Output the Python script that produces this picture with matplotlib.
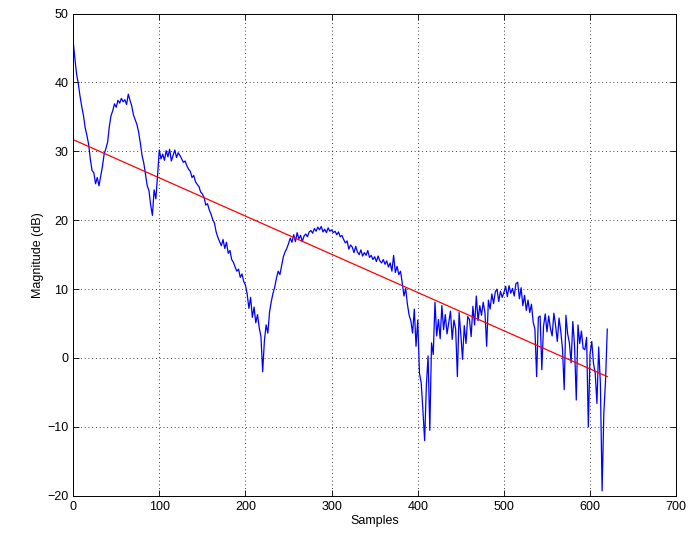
import numpy as np
import matplotlib
matplotlib.use("Agg")
import matplotlib.pyplot as plt

plt.rcParams['font.family'] = ['Liberation Sans', 'DejaVu Sans']

# magnitude, one value every 2 samples (0..620)
magnitude = [
    46.0, 43.5, 41.2, 39.8, 38.0, 36.5, 35.2, 33.4, 32.3, 31.0,
    28.8, 27.2, 26.9, 25.3, 26.2, 25.0, 26.4, 27.8, 29.6, 30.4,
    31.3, 33.6, 35.2, 35.9, 36.9, 36.4, 37.4, 37.0, 37.7, 37.2,
    37.5, 36.8, 38.3, 37.4, 36.6, 35.3, 34.6, 33.9, 32.8, 31.2,
    29.4, 28.3, 26.6, 25.0, 24.3, 22.2, 20.7, 24.4, 23.1, 26.5,
    30.2, 28.9, 29.6, 28.7, 30.1, 29.2, 30.3, 28.6, 29.4, 30.2,
    29.1, 29.8, 29.4, 28.9, 28.4, 28.6, 27.9, 27.4, 27.1, 26.2,
    26.5, 25.6, 25.2, 24.9, 24.1, 23.8, 23.3, 22.2, 22.4, 21.5,
    20.9, 20.1, 19.6, 18.3, 17.5, 16.9, 16.3, 17.2, 15.9, 16.8,
    15.2, 15.6, 14.3, 13.9, 13.2, 12.6, 12.9, 11.7, 12.2, 11.1,
    10.6, 9.3, 7.2, 8.8, 5.9, 7.4, 5.1, 6.3, 4.4, 3.1,
    -2.0, 2.5, 4.8, 3.6, 6.7, 8.2, 9.4, 10.3, 11.6, 12.6,
    12.1, 13.4, 14.7, 15.4, 15.9, 16.6, 17.4, 16.8, 17.9, 16.9,
    18.2, 17.3, 17.8, 16.9, 17.7, 18.0, 17.6, 18.3, 18.5, 18.1,
    18.8, 18.4, 19.0, 18.6, 19.1, 18.3, 18.7, 18.2, 18.9, 18.4,
    18.6, 18.2, 18.4, 17.9, 18.3, 17.6, 17.8, 17.2, 16.7, 17.0,
    15.8, 16.4, 16.1, 15.3, 16.2, 15.4, 15.0, 15.7, 14.8, 15.3,
    14.9, 15.6, 14.6, 14.9, 14.3, 14.7, 14.0, 14.8, 14.1, 13.8,
    14.3, 13.6, 14.1, 13.2, 13.8, 12.6, 14.9, 12.4, 13.3, 12.1,
    12.6, 10.9, 9.0, 10.1, 7.8, 6.2, 5.4, 3.6, 7.1, 1.7,
    5.5, -2.2, -3.6, -7.6, -12.0, -4.0, 0.3, -10.5, 2.2, 0.5,
    8.1, 3.2, 5.6, 2.8, 7.6, 4.1, 6.3, 3.5, 5.1, 6.8,
    2.7, 5.5, 4.2, -2.7, 6.6, 3.4, -0.2, 4.7, 2.1, 6.0,
    5.6, 3.1, 7.5, 4.8, 9.0, 5.4, 7.6, 6.2, 8.1, 6.6,
    1.7, 8.4, 7.1, 9.3, 7.9, 9.6, 10.0, 8.2, 9.7, 8.8,
    9.5, 10.4, 8.9, 10.5, 9.4, 10.1, 9.0, 10.8, 11.0, 8.6,
    10.2, 7.6, 9.1, 6.9, 8.4, 6.6, 7.8, 5.2, 4.2, -2.7,
    5.9, 6.1, -1.7, 4.6, 6.4, 3.8, 6.1, 4.3, 3.2, 6.5,
    4.7, 2.4, 5.8, 3.9, 1.3, -4.6, 6.2, 3.5, 2.2, -0.7,
    5.3, 1.8, -6.1, 4.8, 2.1, 3.9, 1.4, 1.2, 3.0, -10.0,
    0.6, 2.4, -0.8, -2.2, -6.6, 1.6, -3.7, -19.3, -8.0, -3.2,
    4.2,
]
samples = np.arange(0, 2 * len(magnitude), 2)

# linear trend line end points
fit_x = [0, 620]
fit_y = [31.7, -2.7]

fig = plt.figure(figsize=(6.9, 5.43), dpi=100)
ax = fig.add_axes([0.106, 0.087, 0.874, 0.888])

ax.plot(samples, magnitude, color='#0000ff', lw=0.9)
ax.plot(fit_x, fit_y, color='#ff0000', lw=0.9)

ax.set_xlim(0, 700)
ax.set_ylim(-20, 50)
ax.set_xticks(range(0, 701, 100))
ax.set_yticks(range(-20, 51, 10))
ax.grid(True, color='black', linestyle=(0, (1, 3.5)), linewidth=0.6)
ax.tick_params(direction='in', top=True, right=True, labelsize=9, length=4, width=0.6)
for s in ax.spines.values():
    s.set_linewidth(0.7)

ax.set_xlabel('Samples', fontsize=9, labelpad=2)
ax.set_ylabel('Magnitude (dB)', fontsize=9, labelpad=2)

fig.savefig('out.png', dpi=100)
